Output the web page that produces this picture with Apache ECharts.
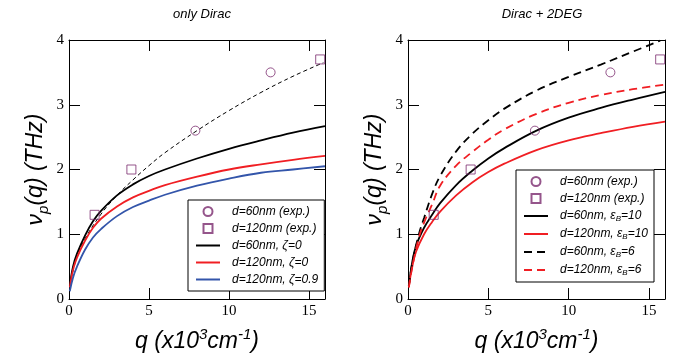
<!DOCTYPE html>
<html>
<head>
<meta charset="utf-8">
<script src="https://cdn.jsdelivr.net/npm/echarts@6/dist/echarts.min.js"></script>
<style>
  html, body { margin: 0; padding: 0; background: #fff; }
  #chart { width: 673px; height: 362px; }
</style>
</head>
<body>
<div id="chart"></div>
<script>
// tick labels
const xTicks = [0, 5, 10, 15]
const yTicks = [0, 1, 2, 3, 4]

// experimental points (same in both panels)
const exp60 = [[7.9, 2.6], [12.6, 3.5]]
const exp120 = [[1.6, 1.3], [3.9, 2.0], [15.7, 3.7]]

// left panel: only Dirac
const fitLeft = [[0.05, 0.2], [0.5, 0.66], [1, 0.93], [2, 1.31], [3, 1.6], [4, 1.84], [5, 2.06], [6, 2.26], [8, 2.6], [10, 2.91], [12, 3.19], [14, 3.44], [15.9, 3.65]]
const d60zeta0 = [[0.05, 0.2], [0.25, 0.5], [0.5, 0.7], [1, 0.98], [1.5, 1.2], [2, 1.36], [3, 1.6], [4, 1.77], [5, 1.9], [6, 2.0], [8, 2.17], [10, 2.32], [12, 2.45], [14, 2.57], [16, 2.67]]
const d120zeta0 = [[0.05, 0.18], [0.25, 0.45], [0.5, 0.64], [1, 0.9], [1.5, 1.1], [2, 1.24], [3, 1.43], [4, 1.57], [5, 1.67], [6, 1.76], [8, 1.89], [10, 2.0], [12, 2.08], [14, 2.15], [16, 2.21]]
const d120zeta09 = [[0.05, 0.12], [0.25, 0.33], [0.5, 0.5], [1, 0.76], [1.5, 0.95], [2, 1.08], [3, 1.28], [4, 1.42], [5, 1.52], [6, 1.61], [8, 1.75], [10, 1.86], [12, 1.95], [14, 2.0], [16, 2.05]]

// right panel: Dirac + 2DEG
const d60eps10 = [[0.05, 0.2], [0.25, 0.55], [0.5, 0.82], [1, 1.1], [1.5, 1.3], [2, 1.48], [3, 1.76], [4, 1.98], [5, 2.17], [6, 2.33], [8, 2.6], [10, 2.8], [12, 2.95], [14, 3.08], [16, 3.2]]
const d120eps10 = [[0.05, 0.18], [0.25, 0.48], [0.5, 0.73], [1, 1.0], [1.5, 1.19], [2, 1.35], [3, 1.6], [4, 1.8], [5, 1.96], [6, 2.09], [8, 2.3], [10, 2.45], [12, 2.56], [14, 2.66], [16, 2.74]]
const d60eps6 = [[0.05, 0.2], [0.3, 0.6], [0.7, 1.02], [1, 1.25], [1.5, 1.62], [2, 1.9], [3, 2.28], [4, 2.55], [5, 2.76], [6, 2.94], [8, 3.22], [10, 3.43], [12, 3.62], [14, 3.82], [15.7, 3.99]]
const d120eps6 = [[0.05, 0.18], [0.3, 0.54], [0.7, 0.97], [1, 1.18], [1.5, 1.46], [2, 1.75], [3, 2.06], [4, 2.27], [5, 2.46], [6, 2.62], [8, 2.86], [10, 3.03], [12, 3.15], [14, 3.24], [16, 3.31]]

const SANS = 'Liberation Sans'
const SERIF = 'Liberation Serif'
const PURPLE = '#7b2a6e'
const RED = '#f01e23'
const BLUE = '#3355aa'

const chart = echarts.init(document.getElementById('chart'), null, { renderer: 'canvas' })

// frame line shared by all four sides; onZero off so top/right axes stay put
const frameLine = { show: true, onZero: false, lineStyle: { color: '#000', width: 1 } }

function xAxes(gridIndex) {
  return [
    {
      type: 'value', gridIndex, min: 0, max: 16, position: 'bottom',
      name: 'q (x10{sup|3}cm{sup|-1})', nameLocation: 'middle', nameGap: 28,
      nameTextStyle: {
        fontFamily: SANS, fontStyle: 'italic', fontSize: 23, color: '#000', lineHeight: 30,
        rich: { sup: { fontFamily: SANS, fontStyle: 'italic', fontSize: 15, verticalAlign: 'top', lineHeight: 30, color: '#000' } }
      },
      axisLine: frameLine,
      axisTick: { show: true, inside: true, length: 11, customValues: xTicks, lineStyle: { color: '#000' } },
      axisLabel: { customValues: xTicks, margin: 5, fontFamily: SERIF, fontSize: 15, color: '#000' },
      splitLine: { show: false }
    },
    {
      type: 'value', gridIndex, min: 0, max: 16, position: 'top',
      axisLine: frameLine,
      axisTick: { show: true, inside: true, length: 11, customValues: xTicks, lineStyle: { color: '#000' } },
      axisLabel: { show: false },
      splitLine: { show: false }
    }
  ]
}

function yAxes(gridIndex) {
  return [
    {
      type: 'value', gridIndex, min: 0, max: 4, position: 'left',
      name: 'ν{sub|p}(q) (THz)', nameLocation: 'middle', nameGap: 18,
      nameTextStyle: {
        fontFamily: SANS, fontStyle: 'italic', fontSize: 23, color: '#000', lineHeight: 30,
        rich: { sub: { fontFamily: SANS, fontStyle: 'italic', fontSize: 15, verticalAlign: 'bottom', lineHeight: 30, color: '#000' } }
      },
      axisLine: frameLine,
      axisTick: { show: true, inside: true, length: 11, customValues: yTicks, lineStyle: { color: '#000' } },
      axisLabel: { customValues: yTicks, margin: 5, fontFamily: SERIF, fontSize: 15, color: '#000' },
      splitLine: { show: false }
    },
    {
      type: 'value', gridIndex, min: 0, max: 4, position: 'right',
      axisLine: frameLine,
      axisTick: { show: true, inside: true, length: 11, customValues: yTicks, lineStyle: { color: '#000' } },
      axisLabel: { show: false },
      splitLine: { show: false }
    }
  ]
}

function scatter(name, data, symbol, idx) {
  return {
    type: 'scatter', name, data, symbol, symbolSize: 9,
    xAxisIndex: idx * 2, yAxisIndex: idx * 2,
    itemStyle: { color: 'transparent', borderColor: PURPLE, borderWidth: 1 },
    z: 5
  }
}

function curve(name, data, color, idx, opts = {}) {
  return {
    type: 'line', name, data, symbol: 'none', showSymbol: false, smooth: 0.4,
    xAxisIndex: idx * 2, yAxisIndex: idx * 2,
    lineStyle: { color, width: opts.width || 1.8, type: opts.type || 'solid' },
    itemStyle: { color },
    clip: true
  }
}

const SQUARE = 'path://M0,0L10,0L10,10L0,10Z'

// legend entries for lines: hide the dot ECharts puts in the middle of the line icon
const lineItem = (name) => ({ name, itemStyle: { opacity: 0 } })

const legendBase = {
  orient: 'vertical',
  backgroundColor: '#fff',
  borderColor: '#000',
  borderWidth: 1,
  itemWidth: 24,
  itemHeight: 9,
  itemGap: 4,
  selectedMode: false,
  textStyle: {
    fontFamily: SANS, fontStyle: 'italic', fontSize: 12, color: '#000', lineHeight: 13,
    padding: [0, 0, 0, 7],
    rich: { sub: { fontFamily: SANS, fontStyle: 'italic', fontSize: 8, verticalAlign: 'bottom', lineHeight: 14, color: '#000' } }
  },
  formatter: (n) => n.replace('ε_B', 'ε{sub|B}')
}

chart.setOption({
  animation: false,
  backgroundColor: '#fff',
  title: [
    { text: 'only Dirac', left: 197, top: 3, textAlign: 'center',
      textStyle: { fontFamily: SANS, fontStyle: 'italic', fontWeight: 'normal', fontSize: 13, color: '#000' } },
    { text: 'Dirac + 2DEG', left: 537, top: 3, textAlign: 'center',
      textStyle: { fontFamily: SANS, fontStyle: 'italic', fontWeight: 'normal', fontSize: 13, color: '#000' } }
  ],
  grid: [
    { left: 69, top: 40, width: 256, height: 267 },
    { left: 408, top: 40, width: 257, height: 267 }
  ],
  xAxis: [...xAxes(0), ...xAxes(1)],
  yAxis: [...yAxes(0), ...yAxes(1)],
  legend: [
    Object.assign({}, legendBase, {
      left: 188, top: 200, padding: [5, 6, 5, 7],
      data: ['d=60nm (exp.)', 'd=120nm (exp.)', lineItem('d=60nm, ζ=0'), lineItem('d=120nm, ζ=0'), lineItem('d=120nm, ζ=0.9')]
    }),
    Object.assign({}, legendBase, {
      left: 516, top: 170, padding: [5, 6, 5, 7],
      data: ['d=60nm (exp.)', 'd=120nm (exp.)', lineItem('d=60nm, ε_B=10'), lineItem('d=120nm, ε_B=10'), lineItem('d=60nm, ε_B=6'), lineItem('d=120nm, ε_B=6')]
    })
  ],
  series: [
    curve('fit', fitLeft, '#000', 0, { width: 1, type: [4, 3] }),
    curve('d=60nm, ζ=0', d60zeta0, '#000', 0),
    curve('d=120nm, ζ=0', d120zeta0, RED, 0),
    curve('d=120nm, ζ=0.9', d120zeta09, BLUE, 0),
    scatter('d=60nm (exp.)', exp60, 'circle', 0),
    scatter('d=120nm (exp.)', exp120, SQUARE, 0),

    curve('d=60nm, ε_B=10', d60eps10, '#000', 1),
    curve('d=120nm, ε_B=10', d120eps10, RED, 1),
    curve('d=60nm, ε_B=6', d60eps6, '#000', 1, { type: [8, 5] }),
    curve('d=120nm, ε_B=6', d120eps6, RED, 1, { type: [8, 5] }),
    scatter('d=60nm (exp.)', exp60, 'circle', 1),
    scatter('d=120nm (exp.)', exp120, SQUARE, 1)
  ]
})
</script>
</body>
</html>
